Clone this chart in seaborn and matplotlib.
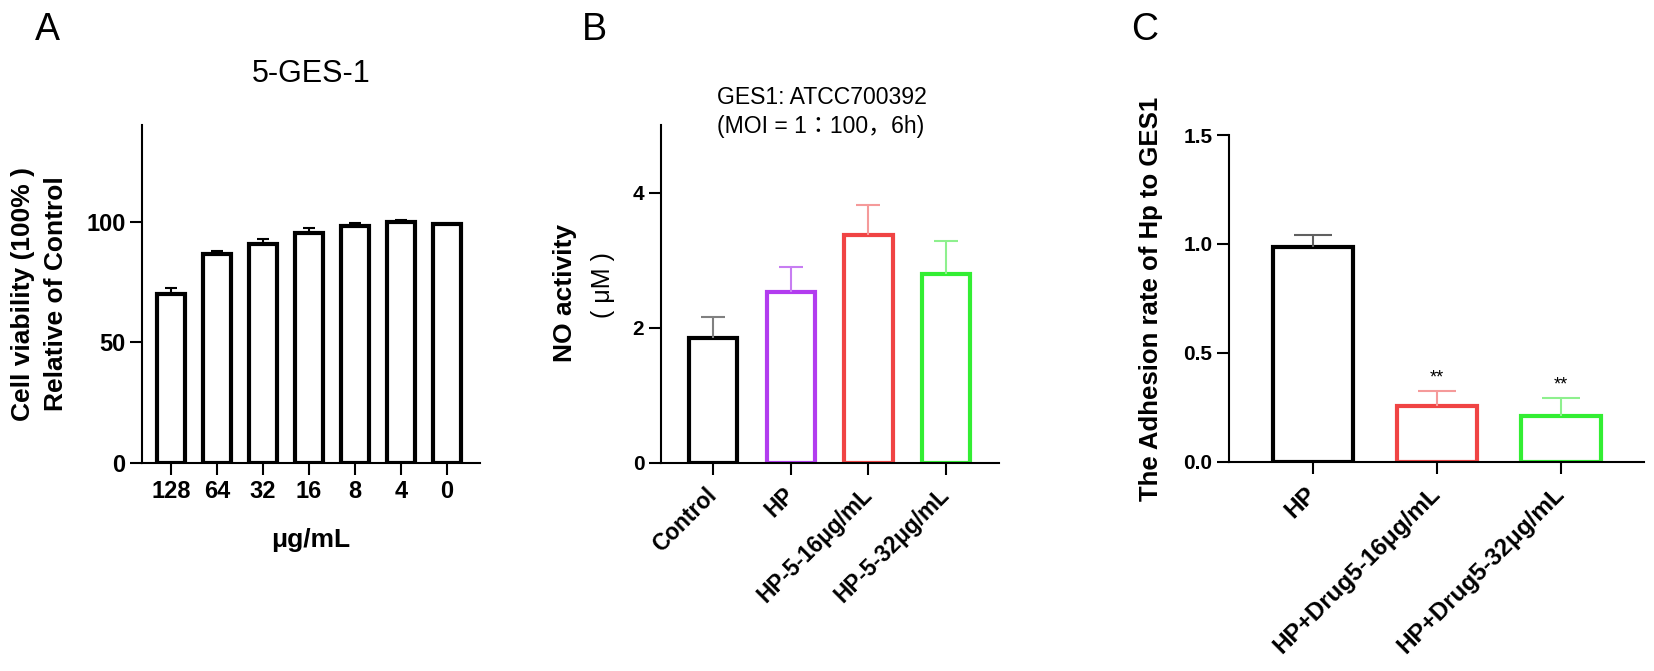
import numpy as np
import pandas as pd
import matplotlib
matplotlib.use("Agg")
import matplotlib.pyplot as plt
import seaborn as sns

# panel A data: cell viability vs concentration
conc_labels = ["128", "64", "32", "16", "8", "4", "0"]
viability = [70.2, 86.7, 90.9, 95.4, 98.0, 100.0, 99.2]
viability_err = [2.1, 1.3, 1.7, 2.1, 1.6, 0.8, 0.0]

# panel B data: NO activity
no_groups = ["Control", "HP", "HP-5-16μg/mL", "HP-5-32μg/mL"]
no_activity = [1.85, 2.53, 3.38, 2.80]
no_err = [0.31, 0.37, 0.43, 0.49]
no_colors = ["#000000", "#B23CEF", "#F04444", "#33EE33"]
no_err_colors = ["#808080", "#C77DF2", "#F59A9A", "#8EF08E"]

# panel C data: adhesion rate
adh_groups = ["HP", "HP+Drug5-16μg/mL", "HP+Drug5-32μg/mL"]
adhesion = [0.986, 0.257, 0.211]
adhesion_err = [0.054, 0.069, 0.083]
adh_colors = ["#000000", "#F04444", "#33EE33"]
adh_err_colors = ["#606060", "#F59A9A", "#8EF08E"]
adh_marks = ["", "**", "**"]

sns.set_style("ticks")
plt.rcParams['font.family'] = ['Liberation Sans', 'Noto Sans CJK JP']
plt.rcParams['axes.linewidth'] = 1.5
for key in ['text.color', 'axes.labelcolor', 'xtick.color', 'ytick.color', 'axes.edgecolor']:
    plt.rcParams[key] = 'black'

fig = plt.figure(figsize=(16.54, 6.71), dpi=100)
axA = fig.add_axes([0.0859, 0.31, 0.2044, 0.5037])
axB = fig.add_axes([0.3996, 0.31, 0.2044, 0.5037])
axC = fig.add_axes([0.743, 0.3115, 0.2509, 0.4873])


def bars(ax, labels, vals, errs, colors, err_colors, width, capsize):
    sns.barplot(x=labels, y=vals, hue=labels, palette=colors, fill=False,
                width=width, linewidth=3, errorbar=None, legend=False, ax=ax)
    for i, (v, e) in enumerate(zip(vals, errs)):
        if e > 0:
            _, caps, _ = ax.errorbar(i, v, yerr=[[0], [e]], fmt='none', ecolor=err_colors[i],
                                     elinewidth=1.5, capsize=capsize, capthick=1.5, zorder=1)
            caps[0].set_visible(False)
    sns.despine(ax=ax)
    ax.tick_params(length=8.5, width=1.5)


def rotate(ax, size):
    for t in ax.get_xticklabels():
        t.set_fontsize(size)
        t.set_fontweight('bold')
        t.set_rotation(45)
        t.set_ha('right')
        t.set_va('center')
        t.set_rotation_mode('anchor')
    ax.tick_params(axis='x', pad=12)


# A
bars(axA, conc_labels, viability, viability_err, ["#000000"] * 7, ["#000000"] * 7, 0.6, 4.5)
axA.set_xlim(-0.63, 6.72)
axA.set_ylim(0, 140)
axA.set_yticks([0, 50, 100])
for t in axA.get_xticklabels() + axA.get_yticklabels():
    t.set_fontsize(17)
    t.set_fontweight('bold')
axA.set_xlabel("μg/mL", fontsize=19, fontweight='bold', labelpad=18)
axA.set_ylabel("Cell viability (100% )\nRelative of Control", fontsize=19, fontweight='bold', linespacing=1.45)
axA.yaxis.set_label_coords(-0.22, 0.5)
axA.set_title("5-GES-1", fontsize=22, pad=31)

# B
bars(axB, no_groups, no_activity, no_err, no_colors, no_err_colors, 0.62, 8.5)
axB.set_xlim(-0.67, 3.68)
axB.set_ylim(0, 5)
axB.set_yticks([0, 2, 4])
for t in axB.get_yticklabels():
    t.set_fontsize(15)
    t.set_fontweight('bold')
rotate(axB, 16.3)
axB.set_ylabel("NO activity", fontsize=19, fontweight='bold')
axB.yaxis.set_label_coords(-0.249, 0.503)
axB.text(-0.172, 0.527, "( μM )", transform=axB.transAxes, rotation=90,
         ha='center', va='center', fontsize=18)
axB.text(0.166, 0.976, "GES1: ATCC700392\n(MOI = 1：100，6h)", transform=axB.transAxes,
         ha='left', va='baseline', fontsize=16.6, linespacing=1.35)

# C
bars(axC, adh_groups, adhesion, adhesion_err, adh_colors, adh_err_colors, 0.64, 14)
axC.set_xlim(-0.677, 2.67)
axC.set_ylim(0, 1.5)
axC.set_yticks([0, 0.5, 1.0, 1.5])
axC.set_yticklabels(["0.0", "0.5", "1.0", "1.5"])
for t in axC.get_yticklabels():
    t.set_fontsize(15)
    t.set_fontweight('bold')
rotate(axC, 17.5)
axC.set_ylabel("The Adhesion rate of Hp to GES1", fontsize=18.5, fontweight='bold')
axC.yaxis.set_label_coords(-0.158, 0.5)
for i, (v, e, m) in enumerate(zip(adhesion, adhesion_err, adh_marks)):
    if m:
        axC.text(i, v + e + 0.02, m, ha='center', va='bottom', fontsize=13)

# panel letters
for x, letter in [(0.0212, "A"), (0.352, "B"), (0.684, "C")]:
    fig.text(x, 0.9404, letter, fontsize=27, ha='left', va='baseline')

fig.savefig("out.png", dpi=100)
